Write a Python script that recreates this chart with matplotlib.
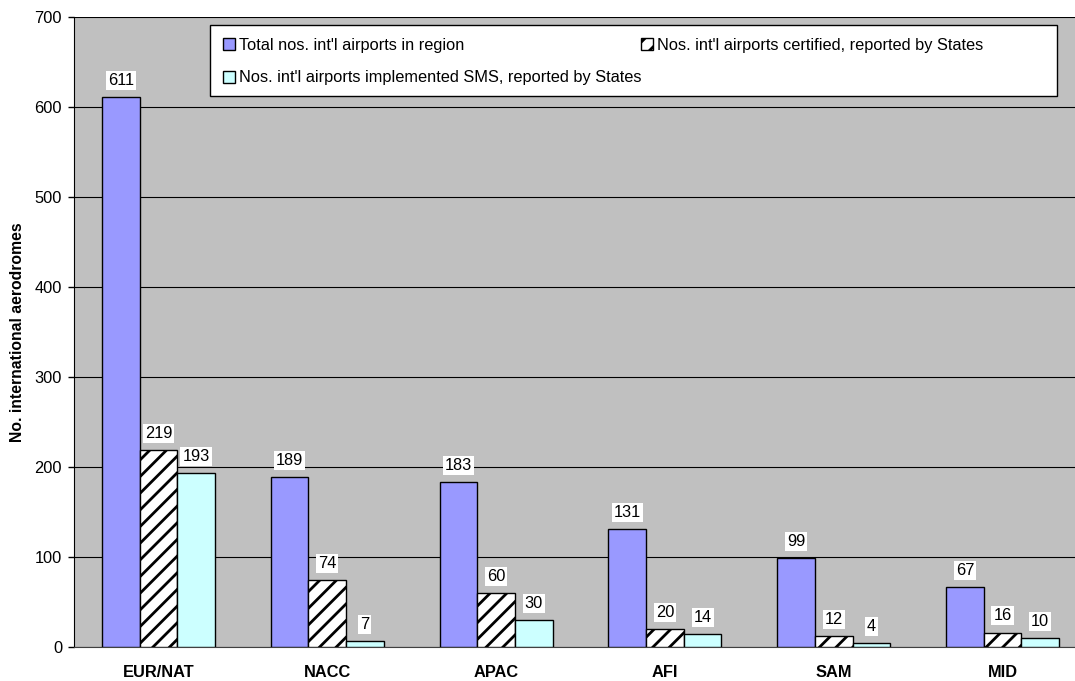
import numpy as np
import matplotlib
matplotlib.use("Agg")
import matplotlib.pyplot as plt
from matplotlib.patches import Rectangle

plt.rcParams['font.family'] = ['Liberation Sans', 'DejaVu Sans']
plt.rcParams['hatch.linewidth'] = 2.0
plt.rcParams['hatch.color'] = '#606060'

regions = ["EUR/NAT", "NACC", "APAC", "AFI", "SAM", "MID"]
total = [611, 189, 183, 131, 99, 67]
certified = [219, 74, 60, 20, 12, 16]
sms = [193, 7, 30, 14, 4, 10]
series_names = ["Total nos. int'l airports in region",
                "Nos. int'l airports certified, reported by States",
                "Nos. int'l airports implemented SMS, reported by States"]

W, H = 1075, 681
fig = plt.figure(figsize=(W / 100, H / 100), dpi=100)
# plot area runs a bit past the right edge of the picture, like the original
ax = fig.add_axes([74 / W, 1 - 647 / H, (1087 - 74) / W, (647 - 17) / H])
ax.set_facecolor('#C0C0C0')

x = np.arange(len(regions))
w = 0.223
b1 = ax.bar(x - w, total, w, color='#9999FF', edgecolor='black', linewidth=1, zorder=3,
            label=series_names[0])
b2 = ax.bar(x, certified, w, color='white', edgecolor='black', linewidth=1, hatch='//',
            zorder=3, label=series_names[1])
b3 = ax.bar(x + w, sms, w, color='#CCFFFF', edgecolor='black', linewidth=1, zorder=3,
            label=series_names[2])

for bars in (b1, b2, b3):
    for r in bars:
        v = r.get_height()
        ax.annotate(str(int(v)), (r.get_x() + r.get_width() / 2, v),
                    xytext=(0, 12), textcoords='offset points',
                    ha='center', va='center', fontsize=11.8, zorder=5,
                    bbox=dict(boxstyle='square,pad=0.12', fc='white', ec='none'))

ax.set_xlim(-0.5, 5.5)
ax.set_ylim(0, 700)
ax.set_yticks(range(0, 701, 100))
ax.yaxis.grid(True, color='black', linewidth=0.8, zorder=0)
ax.set_axisbelow(True)
ax.set_xticks(x)
ax.set_xticklabels(regions, fontweight='bold', fontsize=11.8)
ax.tick_params(axis='x', length=0, pad=13)
ax.tick_params(axis='y', length=4.3, width=1, pad=4.3, labelsize=11.8, direction='out')
ax.set_ylabel('No. international aerodromes', fontweight='bold', fontsize=11.3, labelpad=7)

for s in ('top', 'right'):
    ax.spines[s].set_visible(False)
ax.spines['left'].set_color('black')
ax.spines['bottom'].set_color('#404040')

# legend box is wider than its entries in the original, so draw the frame separately
fig.patches.append(Rectangle((210 / W, 1 - 96 / H), (1057 - 210) / W, (96 - 25) / H,
                             transform=fig.transFigure, facecolor='white',
                             edgecolor='black', linewidth=1, zorder=4))
# legend fills column by column, so order handles to read row by row
leg = fig.legend(handles=[b1, b3, b2], loc='upper left', ncol=2,
                 bbox_to_anchor=(210 / W, 1 - 25 / H),
                 bbox_transform=fig.transFigure, frameon=False,
                 fontsize=11.8, handlelength=0.75, handleheight=0.75,
                 handletextpad=0.2, borderaxespad=0, labelspacing=1.05, borderpad=0.8,
                 columnspacing=0.0)
leg.set_zorder(5)

fig.savefig('out.png', dpi=100)
